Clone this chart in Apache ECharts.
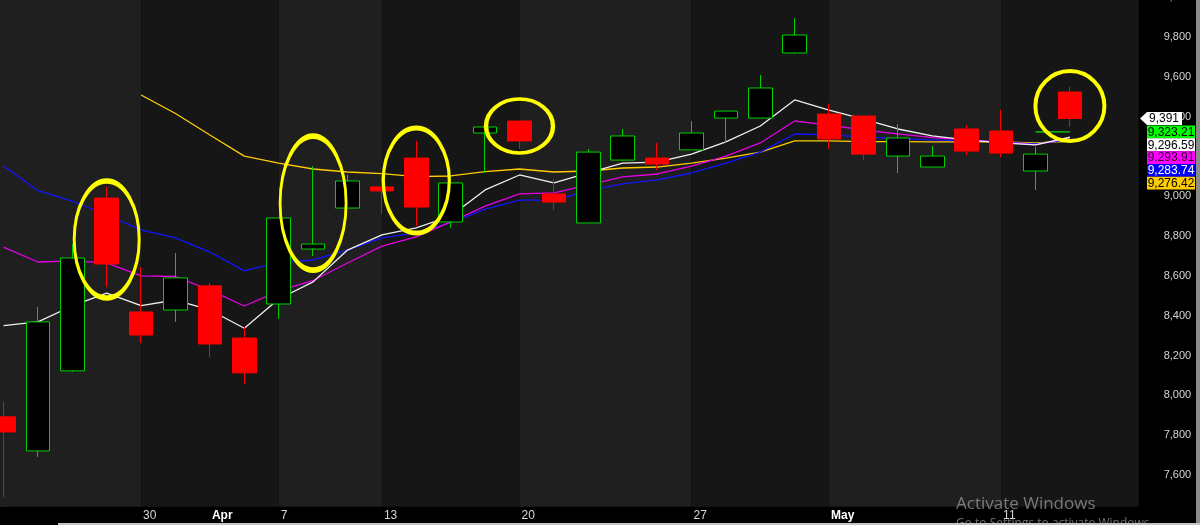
<!DOCTYPE html>
<html>
<head>
<meta charset="utf-8">
<script src="https://cdn.jsdelivr.net/npm/echarts@6/dist/echarts.min.js"></script>
<style>
html,body{margin:0;padding:0;background:#000;}
#chart{width:1200px;height:525px;}
</style>
</head>
<body>
<div id="chart"></div>
<script>
// ---------- DATA ----------
const categories = ['03-24','03-25','03-26','03-27','03-30','03-31','04-01','04-02','04-07','04-08','04-09',
  '04-13','04-14','04-15','04-16','04-20','04-21','04-22','04-23','04-24','04-27','04-28','04-29','04-30',
  '05-04','05-05','05-06','05-07','05-08','05-11','05-12','05-13','05-14','05-15'];

const xTickCategories = ['03-30','04-01','04-07','04-13','04-20','04-27','05-04','05-11'];
const xTickLabels     = ['30','Apr','7','13','20','27','May','11'];
const weekStarts = ['03-24','03-30','04-07','04-13','04-20','04-27','05-04','05-11','05-15'];

const openP  = [7892,7721,8123,8991,8419,8429,8550,8288,8459,8735,8941,9047,9192,8871,9318,9378,9012,8866,9182,9192,9233,9393,9393,9720,9413,9403,9202,9147,9338,9328,9127,9524];
const closeP = [7816,8369,8690,8660,8303,8590,8258,8113,8891,8760,9077,9027,8946,9067,9348,9278,8971,9222,9303,9162,9318,9428,9544,9810,9288,9212,9293,9202,9227,9217,9212,9391];
const lowP   = [7490,7691,8118,8545,8263,8369,8193,8057,8384,8700,8941,8911,8851,8841,9117,9238,8931,8866,9177,9132,9233,9268,9393,9715,9238,9182,9117,9147,9207,9197,9032,9348];
const highP  = [7967,8444,8760,9047,8645,8715,8565,8344,8891,9152,9107,9107,9278,9077,9348,9380,9087,9238,9338,9268,9378,9428,9609,9895,9464,9408,9363,9253,9358,9433,9248,9549];

const maWhite   = [8350,8369,8449,8513,8451,8479,8429,8337,8484,8570,8730,8806,8841,8901,9032,9107,9067,9117,9167,9172,9212,9273,9353,9484,9433,9388,9338,9303,9283,9268,9258,9296.59];
const maMagenta = [8745,8670,8676,8665,8600,8597,8529,8449,8524,8577,8665,8750,8796,8871,8951,9012,9017,9057,9097,9112,9152,9202,9268,9378,9358,9333,9313,9295,9283,9273,9258,9293.91];
const maBlue    = [9152,9028,8976,8906,8831,8791,8720,8625,8668,8680,8730,8791,8816,8866,8936,8981,8981,9027,9062,9082,9117,9167,9222,9313,9308,9298,9288,9283,9278,9273,9263,9283.74];
const maGold    = [null,null,null,null,9509,9416,9308,9202,9167,9137,9122,9114,9099,9102,9124,9137,9122,9127,9142,9147,9167,9192,9222,9278,9278,9275,9275,9273,9273,9273,9268,9276.42];
const lineGreen = [null,null,null,null,null,null,null,null,null,null,null,null,null,null,null,null,null,null,null,null,null,null,null,null,null,null,null,null,null,null,9323.21,9323.21];

const yMin = 7400, yMax = 9986, yTickStep = 200;

// highlighted candles (yellow ellipses): candle index and centre value
const highlightIdx = [3, 9, 12, 15, 31];
const highlightMid = [8783, 8966, 9079, 9353, 9453];

// ---------- CHART ----------
const chart = echarts.init(document.getElementById('chart'), null, {renderer: 'canvas'});
const FONT = '"Liberation Sans", Arial, sans-serif';
const BAND_LIGHT = '#1f1f1f', BAND_DARK = '#161616';
const ellipseSizes = [[65,117],[66,134],[66,105],[67,54],[69,70]];
const ellipsePath = 'path://M50,0 C77.6,0 100,22.4 100,50 C100,77.6 77.6,100 50,100 C22.4,100 0,77.6 0,50 C0,22.4 22.4,0 50,0 Z';

const candleData = openP.map((o, i) => [o, closeP[i], lowP[i], highP[i]]);

const bands = [];
for (let i = 0; i < weekStarts.length - 1; i++) {
  bands.push([
    {xAxis: weekStarts[i], yAxis: 7440, itemStyle: {color: i % 2 === 0 ? BAND_LIGHT : BAND_DARK}},
    {xAxis: weekStarts[i + 1], yAxis: yMax}
  ]);
}

function maSeries(name, data, color, width) {
  return {
    name, type: 'line', data, symbol: 'none', z: 3, silent: true,
    connectNulls: false, smooth: false,
    lineStyle: {color, width}, emphasis: {disabled: true}
  };
}

const option = {
  backgroundColor: '#000000',
  animation: false,
  grid: {left: 3.5, right: 61.3, top: 0, bottom: 10.2, containLabel: false, outerBoundsMode: 'none'},
  xAxis: {
    type: 'category', data: categories, boundaryGap: false, position: 'bottom', offset: -8,
    axisLine: {show: false}, axisTick: {show: false}, splitLine: {show: false},
    axisLabel: {
      interval: (idx, val) => xTickCategories.includes(val),
      formatter: (val) => {
        const t = xTickLabels[xTickCategories.indexOf(val)];
        return /\d/.test(t) ? t : '{m|' + t + '}';
      },
      align: 'left', margin: 3, color: '#d8d8d8', fontSize: 12, fontFamily: FONT,
      padding: [0, 0, 0, 2],
      rich: {m: {fontWeight: 'bold', color: '#ffffff', fontSize: 12, fontFamily: FONT}}
    }
  },
  yAxis: {
    type: 'value', position: 'right', min: yMin, max: yMax, interval: yTickStep,
    axisLine: {show: false}, axisTick: {show: false}, splitLine: {show: false},
    axisLabel: {
      align: 'right', margin: 52.5, color: '#d4d4d4', fontSize: 11, fontFamily: FONT,
      showMinLabel: false, showMaxLabel: false,
      formatter: v => v.toLocaleString('en-US')
    }
  },
  series: [
    {
      name: 'bands', type: 'line', data: [], z: 0, silent: true,
      markArea: {silent: true, data: bands}
    },
    maSeries('gold', maGold, '#ffcc00', 1.3),
    maSeries('blue', maBlue, '#1414ff', 1.3),
    maSeries('magenta', maMagenta, '#e600e6', 1.3),
    maSeries('white', maWhite, '#f0f0f0', 1.3),
    maSeries('green', lineGreen, '#00e000', 1.3),
    {
      name: 'price', type: 'candlestick', data: candleData, z: 4, clip: false,
      barWidth: 24,
      itemStyle: {color: '#000000', color0: '#ff0000', borderColor: '#00d000', borderColor0: '#ff0000', borderWidth: 1},
      emphasis: {disabled: true}
    },
    {
      name: 'highlights', type: 'line', data: [], z: 8, silent: true,
      markPoint: {
        silent: true, animation: false,
        label: {show: false},
        data: highlightIdx.map((ci, k) => ({
          coord: [categories[ci], highlightMid[k]],
          symbol: ellipsePath, symbolSize: ellipseSizes[k], symbolKeepAspect: false,
          itemStyle: {color: 'rgba(0,0,0,0)', borderColor: '#ffff00', borderWidth: 4}
        }))
      }
    }
  ]
};
chart.setOption(option);

// ---------- right-hand value boxes ----------
const yPix = v => chart.convertToPixel({yAxisIndex: 0}, v);
const lastIdx = closeP.length - 1;
const lastPrice = closeP[lastIdx];
const lp = yPix(lastPrice);
const boxes = [
  {v: lineGreen[lastIdx], bg: '#00ff00', fg: '#000000'},
  {v: maWhite[lastIdx],   bg: '#ffffff', fg: '#000000'},
  {v: maMagenta[lastIdx], bg: '#ff00ff', fg: '#2a002a'},
  {v: maBlue[lastIdx],    bg: '#0000ff', fg: '#ffffff'},
  {v: maGold[lastIdx],    bg: '#ffcc00', fg: '#000000'}
];
const fmt2 = v => v.toLocaleString('en-US', {minimumFractionDigits: 2, maximumFractionDigits: 2});
const graphics = [];
graphics.push({type: 'rect', z: 0, silent: true, shape: {x: 0, y: 0, width: 4, height: 507}, style: {fill: BAND_LIGHT}});
// "10,000" label partly above the plot
graphics.push({type: 'text', z: 1, silent: true,
  style: {text: (10000).toLocaleString('en-US'), x: 1191, y: yPix(10000), fill: '#d4d4d4', font: '11px ' + FONT, textAlign: 'right', textVerticalAlign: 'middle'}});
// last price tag
graphics.push({type: 'polygon', z: 20, silent: true,
  shape: {points: [[1140, lp], [1147, lp - 6.5], [1182, lp - 6.5], [1182, lp + 6.5], [1147, lp + 6.5]]},
  style: {fill: '#ffffff'}});
graphics.push({type: 'text', z: 21, silent: true,
  style: {text: lastPrice.toLocaleString('en-US'), x: 1164, y: lp + 0.5, fill: '#000', font: '12px ' + FONT, textAlign: 'center', textVerticalAlign: 'middle'}});
let by = yPix(boxes[0].v) - 6.4;
const BH = 12.8;
boxes.forEach(b => {
  graphics.push({type: 'rect', z: 20, silent: true, shape: {x: 1147, y: by, width: 48, height: BH}, style: {fill: b.bg}});
  graphics.push({type: 'text', z: 21, silent: true,
    style: {text: fmt2(b.v), x: 1171, y: by + BH / 2 + 0.5, fill: b.fg, font: '12px ' + FONT, textAlign: 'center', textVerticalAlign: 'middle'}});
  by += BH;
});
graphics.push({type: 'rect', z: 20, silent: true, shape: {x: 1196, y: 0, width: 4, height: 525}, style: {fill: '#8a8a8a'}});
graphics.push({type: 'rect', z: 20, silent: true, shape: {x: 58, y: 523, width: 1142, height: 2}, style: {fill: '#c4c4c4'}});
graphics.push({type: 'text', z: 22, silent: true,
  style: {text: 'Activate Windows', x: 956, y: 504, fill: 'rgba(200,200,200,0.55)', font: '17px "Open Sans", "Noto Sans", sans-serif', textVerticalAlign: 'middle'}});
graphics.push({type: 'text', z: 22, silent: true,
  style: {text: 'Go to Settings to activate Windows.', x: 956, y: 524, fill: 'rgba(200,200,200,0.55)', font: '12px "Open Sans", "Noto Sans", sans-serif', textVerticalAlign: 'middle'}});
chart.setOption({graphic: graphics});
</script>
</body>
</html>
